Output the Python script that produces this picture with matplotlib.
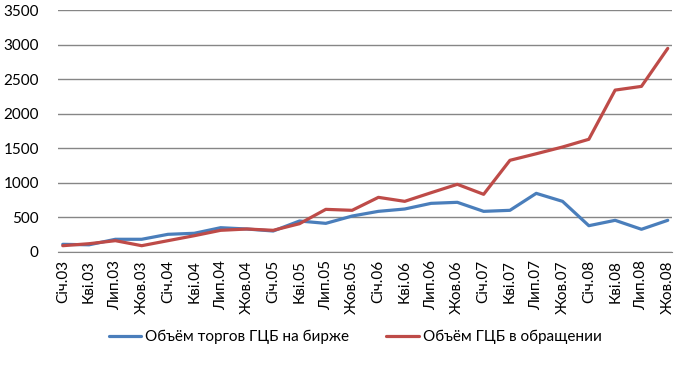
import matplotlib
matplotlib.use("Agg")
import matplotlib.pyplot as plt

categories = ["Січ.03", "Кві.03", "Лип.03", "Жов.03", "Січ.04", "Кві.04", "Лип.04", "Жов.04",
              "Січ.05", "Кві.05", "Лип.05", "Жов.05", "Січ.06", "Кві.06", "Лип.06", "Жов.06",
              "Січ.07", "Кві.07", "Лип.07", "Жов.07", "Січ.08", "Кві.08", "Лип.08", "Жов.08"]
trading = [107, 100, 180, 180, 252, 267, 348, 329, 300, 445, 411, 517,
           585, 619, 701, 716, 585, 600, 846, 730, 377, 455, 325, 455]
circulation = [87, 116, 160, 87, 160, 232, 310, 329, 310, 406, 614, 600,
               788, 730, 855, 977, 832, 1325, 1420, 1518, 1630, 2343, 2397, 2948]
labels = ["Объём торгов ГЦБ на бирже", "Объём ГЦБ в обращении"]
yticks = [0, 500, 1000, 1500, 2000, 2500, 3000, 3500]

plt.rcParams['font.family'] = ['Lato', 'DejaVu Sans']

fig = plt.figure(figsize=(6.96, 3.66), dpi=100)
ax = fig.add_axes([58.3/696, 1-251.7/366, (671.7-58.3)/696, (251.7-10.3)/366])

x = list(range(len(categories)))
ax.plot(x, trading, color="#4A7EBB", lw=2.3, label=labels[0], solid_capstyle='round')
ax.plot(x, circulation, color="#BE4B48", lw=2.3, label=labels[1], solid_capstyle='round')

ax.set_ylim(0, 3500)
ax.set_xlim(-0.17, 23.15)
ax.set_yticks(yticks)
ax.set_yticklabels([str(v) for v in yticks], fontsize=11)
ax.yaxis.grid(True, color="#868686", lw=1)
ax.set_axisbelow(True)
ax.set_xticks(x)
ax.set_xticklabels(categories, rotation=90, fontsize=11)
ax.tick_params(axis='both', length=0)
ax.tick_params(axis='y', pad=14)
ax.tick_params(axis='x', pad=6)
for s in ['top', 'right', 'left']:
    ax.spines[s].set_visible(False)
ax.spines['bottom'].set_color("#868686")

fig.legend(loc='center', bbox_to_anchor=(355/696, 1-337/366), ncol=2, frameon=False,
           fontsize=11, handlelength=2.15, columnspacing=2.4, handletextpad=0.25)

fig.savefig("out.png", dpi=100)
